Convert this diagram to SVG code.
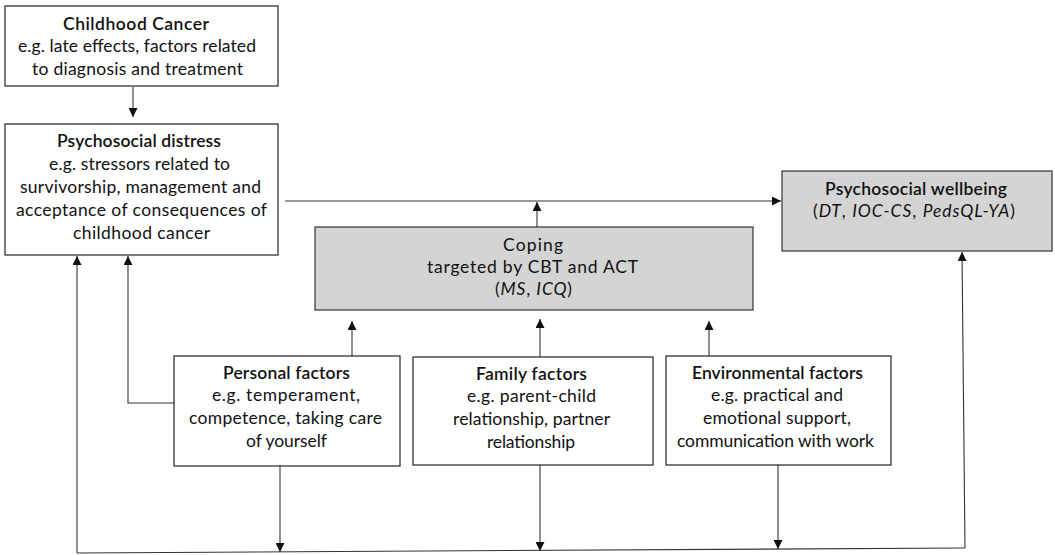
<svg xmlns="http://www.w3.org/2000/svg" width="1055" height="555" viewBox="0 0 1055 555">
<style>
.box{fill:#ffffff;stroke:#222222;stroke-width:1.2}
.grey{fill:#d4d4d4;stroke:#333333;stroke-width:1.2}
.t{font-family:Lato,"Noto Sans","Liberation Sans",sans-serif;font-size:17.5px;fill:#111111;text-anchor:middle}
.h{font-weight:600}
.i{font-style:italic}
.c{fill:none;stroke:#333333;stroke-width:1.1}
</style>
<defs>
<marker id="ah" viewBox="0 0 10 10" refX="10" refY="5" markerWidth="9" markerHeight="9" markerUnits="userSpaceOnUse" orient="auto">
<path d="M0,0 L10,5 L0,10 z" fill="#111111"/>
</marker>
</defs>
<rect width="1055" height="555" fill="#ffffff"/>
<g id="connectors">
<line class="c" x1="133" y1="87" x2="133" y2="117" marker-end="url(#ah)"/>
<line class="c" x1="285" y1="201" x2="781" y2="201" marker-end="url(#ah)"/>
<line class="c" x1="537" y1="227" x2="537" y2="202" marker-end="url(#ah)"/>
<line class="c" x1="352" y1="356" x2="352" y2="321" marker-end="url(#ah)"/>
<line class="c" x1="540" y1="357" x2="540" y2="319" marker-end="url(#ah)"/>
<line class="c" x1="709" y1="356" x2="709" y2="321" marker-end="url(#ah)"/>
<line class="c" x1="280" y1="466" x2="280" y2="552" marker-end="url(#ah)"/>
<line class="c" x1="540" y1="465" x2="540" y2="551" marker-end="url(#ah)"/>
<line class="c" x1="778" y1="465" x2="778" y2="549" marker-end="url(#ah)"/>
<polyline class="c" points="965,548 77,553"/>
<polyline class="c" points="77,553 77,256" marker-end="url(#ah)"/>
<polyline class="c" points="965,548 962,252" marker-end="url(#ah)"/>
<polyline class="c" points="175,403 128,403 128,256" marker-end="url(#ah)"/>
</g>
<g id="childhood-cancer">
<rect class="box" x="5" y="6" width="273" height="80"/>
<text class="t h" x="136" y="30" textLength="146" lengthAdjust="spacing">Childhood Cancer</text>
<text class="t" x="137" y="52" textLength="238" lengthAdjust="spacing">e.g. late effects, factors related</text>
<text class="t" x="137.5" y="75" textLength="211" lengthAdjust="spacing">to diagnosis and treatment</text>
</g>
<g id="psychosocial-distress">
<rect class="box" x="5" y="124" width="273" height="131"/>
<text class="t h" x="139" y="147" textLength="164" lengthAdjust="spacing">Psychosocial distress</text>
<text class="t" x="139.5" y="170" textLength="181" lengthAdjust="spacing">e.g. stressors related to</text>
<text class="t" x="140.5" y="193" textLength="241" lengthAdjust="spacing">survivorship, management and</text>
<text class="t" x="141.5" y="216" textLength="251" lengthAdjust="spacing">acceptance of consequences of</text>
<text class="t" x="141.5" y="239" textLength="137" lengthAdjust="spacing">childhood cancer</text>
</g>
<g id="psychosocial-wellbeing">
<rect class="grey" x="782" y="171" width="270" height="80"/>
<text class="t h" x="916" y="195" textLength="182" lengthAdjust="spacing">Psychosocial wellbeing</text>
<text class="t" x="914" y="217" textLength="202" lengthAdjust="spacing">(<tspan class="i">DT</tspan>, <tspan class="i">IOC-CS</tspan>, <tspan class="i">PedsQL-YA</tspan>)</text>
</g>
<g id="coping">
<rect class="grey" x="315" y="227" width="438" height="83"/>
<text class="t" x="533" y="251" textLength="60" lengthAdjust="spacing">Coping</text>
<text class="t" x="532.5" y="273" textLength="211" lengthAdjust="spacing">targeted by CBT and ACT</text>
<text class="t" x="533.5" y="295" textLength="77" lengthAdjust="spacing">(<tspan class="i">MS</tspan>, <tspan class="i">ICQ</tspan>)</text>
</g>
<g id="personal-factors">
<rect class="box" x="174" y="356" width="226" height="110"/>
<text class="t h" x="286.5" y="379" textLength="127" lengthAdjust="spacing">Personal factors</text>
<text class="t" x="286" y="401" textLength="148" lengthAdjust="spacing">e.g. temperament,</text>
<text class="t" x="285.5" y="424" textLength="193" lengthAdjust="spacing">competence, taking care</text>
<text class="t" x="286.5" y="447" textLength="81" lengthAdjust="spacing">of yourself</text>
</g>
<g id="family-factors">
<rect class="box" x="413" y="357" width="240" height="108"/>
<text class="t h" x="531.5" y="380" textLength="111" lengthAdjust="spacing">Family factors</text>
<text class="t" x="531.5" y="402" textLength="129" lengthAdjust="spacing">e.g. parent-child</text>
<text class="t" x="531.5" y="425" textLength="157" lengthAdjust="spacing">relationship, partner</text>
<text class="t" x="531" y="448" textLength="88" lengthAdjust="spacing">relationship</text>
</g>
<g id="environmental-factors">
<rect class="box" x="666" y="356" width="225" height="109"/>
<text class="t h" x="777.5" y="379" textLength="171" lengthAdjust="spacing">Environmental factors</text>
<text class="t" x="777" y="401" textLength="132" lengthAdjust="spacing">e.g. practical and</text>
<text class="t" x="777" y="424" textLength="148" lengthAdjust="spacing">emotional support,</text>
<text class="t" x="775.5" y="447" textLength="197" lengthAdjust="spacing">communication with work</text>
</g>
</svg>
